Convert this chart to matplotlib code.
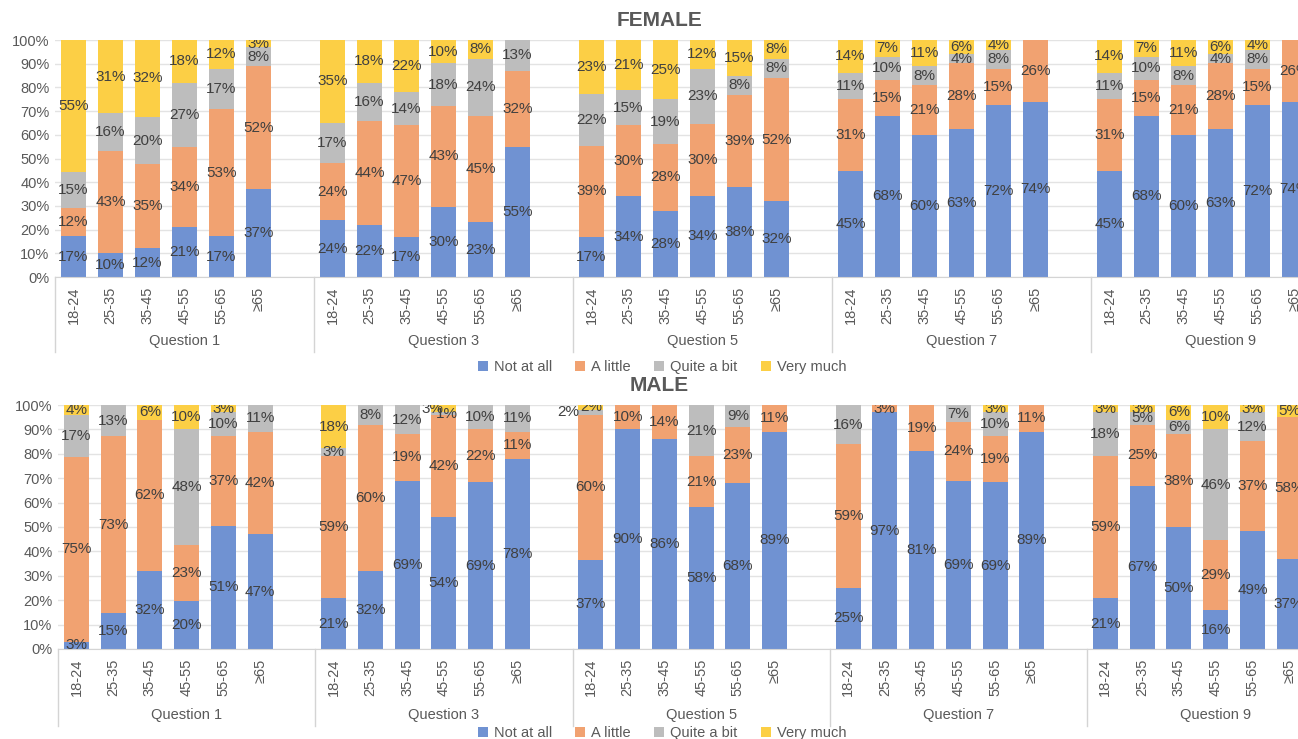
import matplotlib.pyplot as plt
import matplotlib.transforms as mtransforms
from matplotlib.patches import Patch
import numpy as np

plt.rcParams['font.family'] = ['Liberation Sans', 'DejaVu Sans']

# categories
QUESTIONS = ["Question 1", "Question 3", "Question 5", "Question 7", "Question 9"]
AGES = ["18-24", "25-35", "35-45", "45-55", "55-65", "≥65"]
SERIES = ["Not at all", "A little", "Quite a bit", "Very much"]

# FEMALE: per question, per age group -> [Not at all, A little, Quite a bit, Very much]
female_q1 = [[17, 12, 15, 55], [10, 43, 16, 31], [12, 35, 20, 32], [21, 34, 27, 18], [17, 53, 17, 12], [37, 52, 8, 3]]
female_q3 = [[24, 24, 17, 35], [22, 44, 16, 18], [17, 47, 14, 22], [30, 43, 18, 10], [23, 45, 24, 8], [55, 32, 13, 0]]
female_q5 = [[17, 39, 22, 23], [34, 30, 15, 21], [28, 28, 19, 25], [34, 30, 23, 12], [38, 39, 8, 15], [32, 52, 8, 8]]
female_q7 = [[45, 31, 11, 14], [68, 15, 10, 7], [60, 21, 8, 11], [63, 28, 4, 6], [72, 15, 8, 4], [74, 26, 0, 0]]
female_q9 = [[45, 31, 11, 14], [68, 15, 10, 7], [60, 21, 8, 11], [63, 28, 4, 6], [72, 15, 8, 4], [74, 26, 0, 0]]

# MALE
male_q1 = [[3, 75, 17, 4], [15, 73, 13, 0], [32, 62, 0, 6], [20, 23, 48, 10], [51, 37, 10, 3], [47, 42, 11, 0]]
male_q3 = [[21, 59, 3, 18], [32, 60, 8, 0], [69, 19, 12, 0], [54, 42, 1, 3], [69, 22, 10, 0], [78, 11, 11, 0]]
male_q5 = [[37, 60, 2, 2], [90, 10, 0, 0], [86, 14, 0, 0], [58, 21, 21, 0], [68, 23, 9, 0], [89, 11, 0, 0]]
male_q7 = [[25, 59, 16, 0], [97, 3, 0, 0], [81, 19, 0, 0], [69, 24, 7, 0], [69, 19, 10, 3], [89, 11, 0, 0]]
male_q9 = [[21, 59, 18, 3], [67, 25, 5, 3], [50, 38, 6, 6], [16, 29, 46, 10], [49, 37, 12, 3], [37, 58, 0, 5]]

female = [female_q1, female_q3, female_q5, female_q7, female_q9]
male = [male_q1, male_q3, male_q5, male_q7, male_q9]

colors = ['#7092d2', '#f1a271', '#bdbdbd', '#fccf45']
txt = '#404040'
axis_grey = '#595959'
line_grey = '#d4d4d4'

# label nudges (question idx, age idx, series idx) -> x offset in slots
nudges_male = {(2, 0, 2): -0.62, (1, 3, 3): -0.3, (1, 3, 2): 0.08}

fig = plt.figure(figsize=(12.98, 7.39), dpi=100)


def draw_panel(ax, data, title, xmax, nudges):
    x_pos = []
    for qi in range(len(QUESTIONS)):
        for ai in range(len(AGES)):
            x_pos.append(qi * 7 + ai)
    x_pos = np.array(x_pos)
    vals = np.array([row for q in data for row in q], dtype=float)
    norm = vals / vals.sum(axis=1, keepdims=True) * 100
    bottom = np.zeros(len(x_pos))
    for si in range(len(SERIES)):
        ax.bar(x_pos, norm[:, si], 0.68, bottom=bottom, color=colors[si], zorder=2)
        for k in range(len(x_pos)):
            v = vals[k, si]
            if v <= 0:
                continue
            qi, ai = divmod(k, 6)
            dx = nudges.get((qi, ai, si), 0)
            ax.text(x_pos[k] + dx, bottom[k] + norm[k, si] / 2, f'{int(v)}%',
                    ha='center', va='center', fontsize=11, color=txt, zorder=3, clip_on=True)
        bottom += norm[:, si]

    ax.set_xlim(-0.5, xmax)
    ax.set_ylim(0, 100)
    ax.set_yticks(np.arange(0, 101, 10))
    ax.set_yticklabels([f'{t}%' for t in range(0, 101, 10)], fontsize=10.5, color=axis_grey)
    ax.yaxis.grid(True, color='#e3e3e3', linewidth=1, zorder=0)
    ax.set_axisbelow(True)
    for s in ['top', 'right', 'left']:
        ax.spines[s].set_visible(False)
    ax.spines['bottom'].set_color(line_grey)
    ax.tick_params(axis='y', length=0, pad=4)
    ax.set_xticks(x_pos)
    ax.set_xticklabels(AGES * len(QUESTIONS), rotation=90, fontsize=10.5, color=axis_grey)
    ax.tick_params(axis='x', length=0, pad=7)

    trans = mtransforms.blended_transform_factory(ax.transData, ax.transAxes)
    for b in [-0.5, 6.5, 13.5, 20.5, 27.5]:
        ax.plot([b, b], [0, -0.315], transform=trans, color=line_grey, lw=1, clip_on=False)
    for qi, q in enumerate(QUESTIONS):
        ax.text(qi * 7 + 3, -0.272, q, transform=trans, ha='center', va='center',
                fontsize=10.5, color=axis_grey, clip_on=False)
    fig.text(0.508, ax.get_position().y1 + 0.027, title, ha='center', va='center',
             fontsize=15, fontweight='bold', color=axis_grey)


ax_f = fig.add_axes([55 / 1298, 1 - 277 / 739, (1298 - 55) / 1298, 237 / 739])
draw_panel(ax_f, female, 'FEMALE', -0.5 + (1298 - 55) / 37.0, {})

ax_m = fig.add_axes([58 / 1298, 1 - 649 / 739, (1298 - 58) / 1298, 244 / 739])
draw_panel(ax_m, male, 'MALE', -0.5 + (1298 - 58) / 36.75, nudges_male)

handles = [Patch(facecolor=c, label=s) for c, s in zip(colors, SERIES)]
for y in [1 - 367 / 739, 1 - 733 / 739]:
    fig.legend(handles=handles, loc='center', bbox_to_anchor=(0.51, y), ncol=4, frameon=False,
               fontsize=10.5, handlelength=0.7, handleheight=0.7, handletextpad=0.4,
               columnspacing=1.6, labelcolor=axis_grey)

fig.savefig('out.png', dpi=100)
